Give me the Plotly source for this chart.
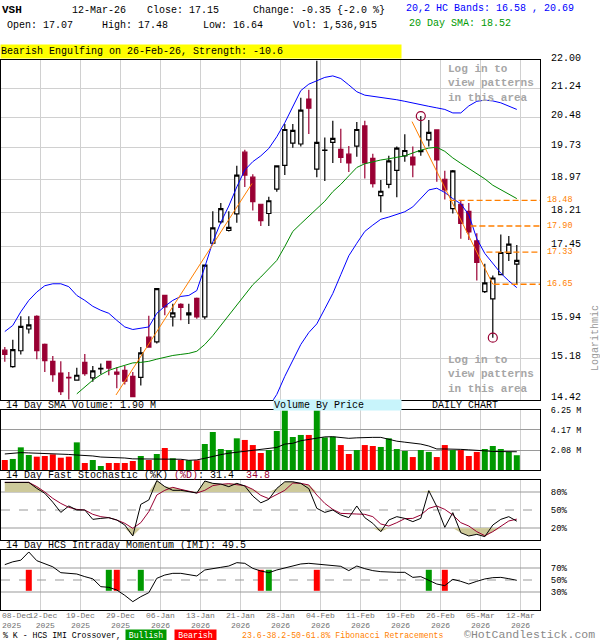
import math

import pandas as pd
import plotly.graph_objects as go

# 1. price data (daily candles, VSH)
dates = ["2025-12-08", "2025-12-09", "2025-12-10", "2025-12-11", "2025-12-12", "2025-12-15", "2025-12-16",
         "2025-12-17", "2025-12-18", "2025-12-19", "2025-12-22", "2025-12-23", "2025-12-24", "2025-12-26",
         "2025-12-29", "2025-12-30", "2025-12-31", "2026-01-02", "2026-01-05", "2026-01-06", "2026-01-07",
         "2026-01-08", "2026-01-09", "2026-01-12", "2026-01-13", "2026-01-14", "2026-01-15", "2026-01-16",
         "2026-01-20", "2026-01-21", "2026-01-22", "2026-01-23", "2026-01-26", "2026-01-27", "2026-01-28",
         "2026-01-29", "2026-01-30", "2026-02-02", "2026-02-03", "2026-02-04", "2026-02-05", "2026-02-06",
         "2026-02-09", "2026-02-10", "2026-02-11", "2026-02-12", "2026-02-13", "2026-02-17", "2026-02-18",
         "2026-02-19", "2026-02-20", "2026-02-23", "2026-02-24", "2026-02-25", "2026-02-26", "2026-02-27",
         "2026-03-02", "2026-03-03", "2026-03-04", "2026-03-05", "2026-03-06", "2026-03-09", "2026-03-10",
         "2026-03-11", "2026-03-12"]

opens = [15.34, 15.03, 15.33, 15.75, 16.00, 15.45, 15.13, 14.91, 14.83, 14.78,
         15.11, 14.82, 14.99, 15.13, 14.93, 14.96, 14.85, 14.83, 15.59, 15.50,
         16.42, 15.99, 16.24, 16.03, 16.36, 15.99, 17.52, 17.99, 17.80, 18.17,
         19.62, 19.02, 18.39, 18.18, 18.74, 19.30, 19.84, 19.82, 20.96, 19.21,
         19.66, 19.86, 19.69, 19.57, 19.77, 20.27, 19.47, 18.59, 18.85, 19.18,
         19.53, 19.50, 19.63, 19.92, 20.17, 18.97, 18.29, 18.39, 18.23, 17.57,
         16.50, 16.35, 16.85, 17.30, 17.07]
highs = [15.40, 15.54, 16.00, 16.00, 16.02, 15.47, 15.23, 15.13, 14.93, 15.01,
         15.27, 15.04, 15.09, 15.14, 15.02, 15.04, 14.93, 15.40, 16.01, 16.57,
         16.43, 16.25, 16.26, 16.25, 16.38, 17.06, 18.23, 18.42, 18.23, 19.29,
         19.68, 19.09, 18.40, 18.56, 19.30, 20.32, 20.32, 20.99, 21.20, 21.98,
         19.98, 20.40, 20.20, 19.77, 20.37, 20.40, 19.58, 18.95, 19.53, 19.76,
         20.06, 19.76, 20.52, 20.42, 20.18, 19.17, 19.19, 18.48, 18.42, 17.74,
         17.08, 16.83, 17.71, 17.68, 17.48]
lows = [15.12, 15.01, 15.26, 15.66, 15.17, 14.93, 14.75, 14.51, 14.43, 14.77,
        14.86, 14.75, 14.89, 14.87, 14.63, 14.70, 14.47, 14.68, 15.39, 15.47,
        16.02, 15.80, 15.92, 15.85, 15.95, 15.94, 17.50, 17.95, 17.78, 17.97,
        18.79, 18.25, 17.90, 17.90, 18.68, 19.07, 19.73, 19.76, 20.07, 19.02,
        18.93, 19.36, 19.36, 19.14, 19.51, 18.99, 18.78, 18.21, 18.76, 18.55,
        19.39, 19.02, 19.53, 19.76, 18.91, 18.50, 18.18, 17.62, 17.59, 16.73,
        16.47, 15.58, 16.84, 17.14, 16.64]
closes = [15.26, 15.35, 15.80, 15.83, 15.33, 15.14, 14.88, 14.57, 14.82, 14.87,
          14.90, 14.95, 15.00, 15.00, 14.89, 14.76, 14.48, 15.29, 15.40, 16.56,
          16.19, 16.07, 16.18, 16.07, 15.99, 17.05, 17.86, 18.29, 17.87, 19.07,
          19.07, 18.45, 18.02, 18.47, 19.29, 20.18, 20.16, 20.67, 20.72, 19.86,
          19.67, 19.96, 19.49, 19.36, 20.18, 19.36, 18.87, 18.69, 19.41, 19.72,
          19.66, 19.31, 19.66, 20.11, 19.43, 18.72, 19.17, 17.96, 17.77, 17.11,
          16.68, 16.78, 17.32, 17.50, 17.15]

# 20,2 bands and 20 day SMA
band_upper = [15.70, 15.82, 16.09, 16.32, 16.49, 16.62, 16.66, 16.66, 16.60, 16.42,
              16.32, 16.20, 16.12, 16.06, 15.92, 15.79, 15.74, 15.76, 15.79, 16.06,
              16.20, 16.32, 16.40, 16.42, 16.52, 17.01, 17.55, 17.98, 18.35, 18.79,
              19.19, 19.39, 19.53, 19.71, 20.00, 20.35, 20.75, 21.18, 21.35, 21.44,
              21.53, 21.57, 21.50, 21.33, 21.15, 21.06, 21.03, 21.00, 20.98, 20.94,
              20.90, 20.85, 20.81, 20.77, 20.73, 20.69, 20.60, 20.60, 20.78, 20.90,
              20.93, 20.91, 20.86, 20.78, 20.69]
band_lower = [None] * 33 + [
    14.30, 14.52, 14.85, 15.15, 15.45, 15.68, 15.85, 16.15, 16.46, 16.85,
    17.25, 17.52, 17.78, 17.92, 18.05, 18.10, 18.16, 18.22, 18.33, 18.52,
    18.72, 18.76, 18.66, 18.52, 18.40, 18.15, 17.62, 17.30, 17.08, 16.88,
    16.72, 16.58]
sma20 = [None] * 9 + [
    14.53, 14.66, 14.78, 14.88, 14.96, 15.01, 15.06, 15.10, 15.11, 15.13,
    15.17, 15.21, 15.24, 15.26, 15.28, 15.32, 15.45, 15.62, 15.82, 16.02,
    16.22, 16.44, 16.64, 16.80, 16.98, 17.15, 17.45, 17.78, 17.95, 18.12,
    18.30, 18.46, 18.68, 18.85, 19.05, 19.25, 19.34, 19.39, 19.43, 19.46,
    19.50, 19.53, 19.60, 19.67, 19.72, 19.74, 19.64, 19.48, 19.35, 19.22,
    19.11, 18.98, 18.83, 18.72, 18.62, 18.52]

# price axis levels and volume-by-price per band (bottom band first)
price_ticks = [14.42, 15.18, 15.94, 16.69, 17.45, 18.21, 18.97, 19.73, 20.48, 21.24, 22.00]
price_tick_text = ["14.42", "15.18", "15.94", "", "17.45", "18.21", "18.97", "19.73", "20.48", "21.24", "22.00"]
vbp_volume = [9.8, 7.2, 7.4, 7.9, 9.7, 10.4, 25.5, 17.1, 5.4, 0]
vbp_full_width = 53.9

# pattern / fibonacci
pattern_date = "2026-02-26"
pattern_candles = ["2026-02-25", "2026-02-26"]
swing_high_date = "2026-02-24"
swing_low_date = "2026-03-09"
fib_levels = [18.48, 17.90, 17.33, 16.65]
fib_start = [55.6, 58.2, 60.2, 61.1]
trend_lines = [([13.9, 30.9], [14.51, 18.87]), ([50.9, 61.0], [20.38, 16.65])]

# 2. volume (millions)
volume = [1.04, 1.15, 2.36, 1.56, 1.39, 1.46, 1.63, 1.28, 1.39, 2.88,
          0.73, 1.04, 0.42, 0.73, 0.73, 0.73, 0.94, 1.46, 1.04, 1.67,
          2.29, 1.22, 1.04, 1.01, 1.01, 2.71, 3.96, 2.19, 2.08, 3.30,
          3.13, 2.60, 1.77, 2.08, 4.06, 6.20, 3.44, 3.65, 3.65, 6.20,
          3.40, 3.47, 2.60, 1.67, 2.08, 2.60, 2.50, 2.40, 3.30, 2.19,
          1.98, 1.35, 2.08, 1.88, 1.35, 2.60, 2.08, 2.08, 1.46, 1.88,
          2.19, 2.50, 2.19, 1.88, 1.54]
volume_sma = [1.67, 1.72, 1.81, 1.78, 1.75, 1.72, 1.72, 1.70, 1.62, 1.56,
              1.52, 1.46, 1.35, 1.32, 1.32, 1.25, 1.16, 1.15, 1.17, 1.17,
              1.15, 1.15, 1.12, 1.01, 1.05, 1.22, 1.45, 1.60, 1.75, 1.85,
              1.95, 2.05, 2.15, 2.22, 2.35, 2.70, 2.78, 3.05, 3.20, 3.37,
              3.45, 3.47, 3.40, 3.30, 3.35, 3.40, 3.40, 3.40, 3.22, 3.00,
              2.90, 2.80, 2.70, 2.50, 2.19, 2.19, 2.19, 2.15, 2.10, 2.08,
              2.00, 1.93, 1.92, 1.93, 1.90]
volume_ticks = [2.08, 4.17, 6.25]

# 3. stochastic and IMI (%)
stoch_k = [96, 96, 96, 96, 86, 77.8, 63, 46, 56.7, 50,
           50, 34.4, 36, 37.2, 33.3, 25, 6.7, 59.4, 66.7, 99,
           89, 82.8, 82.8, 80.6, 78.3, 98.3, 94.4, 93.3, 88.9, 94.4,
           90, 73.3, 62, 67.8, 86, 97, 97, 94.4, 85.6, 52.8,
           46, 50, 41.7, 37.2, 56.7, 37.2, 27.8, 13.9, 33.3, 38.9,
           36, 30.6, 36, 82.2, 55.6, 21.1, 45.6, 12.2, 6.7, 9.4,
           5.6, 25, 34.4, 38.9, 31.4]
stoch_d = [96, 96, 96, 96, 89, 80, 69.4, 61, 54.4, 51,
           50, 42.8, 38.9, 37.2, 33.3, 27.8, 19.4, 28.9, 47.2, 75,
           82.8, 87.8, 84.4, 81.7, 78.3, 82.8, 90.6, 92.8, 93.9, 92.2,
           90.6, 84.4, 74.4, 68.9, 76, 82.8, 95, 94.4, 91.7, 75,
           61, 51, 44.4, 43.3, 43.3, 42.8, 38.9, 26.7, 23.3, 28.9,
           35.6, 36, 41.7, 52.8, 56.7, 51, 41.7, 28.9, 23.3, 13.9,
           7.2, 13.9, 23.3, 31.7, 34.8]
imi = [75.6, 80.3, 83, 96.7, 82.2, 76.7, 72, 62.2, 61, 60,
       55.6, 52, 38.9, 37.8, 33.3, 24.4, 13.9, 22.2, 28.9, 52.8,
       58.3, 61.1, 61.1, 59.4, 56.7, 66.7, 69.4, 71.1, 73.3, 78.9,
       77.8, 69.4, 65, 62.2, 66.7, 70, 73.3, 76.7, 77.8, 76.7,
       75.6, 74.4, 72.8, 65.6, 73.3, 68.9, 65.6, 63.9, 62.8, 62.8,
       62.8, 54.4, 55.6, 50, 43.3, 40.6, 51.1, 47.8, 43.3, 47.8,
       51.7, 53.9, 54.4, 52.2, 49.5]
stoch_levels = [20, 50, 80]
imi_levels = [30, 50, 70]
bullish_dates = ["2025-12-26", "2026-01-02", "2026-01-27", "2026-02-25"]
bearish_dates = ["2025-12-11", "2025-12-29", "2026-01-26", "2026-02-04", "2026-02-27"]
cross_band = [32, 67]

# 4. layout helpers
MONO = "Liberation Mono"
W, H = 600, 640
MAROON, GREEN_BAR, RED_BAR, ORANGE = "#990033", "#009900", "#ff0000", "#ff7f00"


def fx(px):
    return px / W


def fy(py):
    return 1 - py / H


idx = list(range(len(dates)))
x_lo, x_hi = -0.475, 66.9
grid_x = [i + 0.46 for i in idx[4::5]]
grid_text = [pd.Timestamp(dates[i]).strftime("%d-%b<br>%Y") for i in idx[4::5]]
grid_text[0] = grid_text[0].replace("12", "\u00a012").replace("<br>", "<br>\u00a0\u00a0")
rising = [c > o for o, c in zip(opens, closes)]
log_lo, log_hi = math.log10(price_ticks[0]) - 1e-5, math.log10(price_ticks[-1]) + 1e-5

fig = go.Figure()

# price panel
fig.add_trace(go.Candlestick(x=idx, open=opens, high=highs, low=lows, close=closes,
                             increasing=dict(fillcolor="white", line=dict(color="black", width=1.2)),
                             decreasing=dict(fillcolor=MAROON, line=dict(color=MAROON, width=1.2)),
                             whiskerwidth=0, hoverinfo="skip", xaxis="x", yaxis="y"))
fig.add_trace(go.Scatter(x=idx, y=band_upper, mode="lines", line=dict(color="#0000ff", width=1), xaxis="x", yaxis="y"))
fig.add_trace(go.Scatter(x=idx, y=band_lower, mode="lines", line=dict(color="#0000ff", width=1), xaxis="x", yaxis="y"))
fig.add_trace(go.Scatter(x=idx, y=sma20, mode="lines", line=dict(color="#008800", width=1), xaxis="x", yaxis="y"))
for tx, ty in trend_lines:
    fig.add_trace(go.Scatter(x=tx, y=ty, mode="lines", line=dict(color=ORANGE, width=1), xaxis="x", yaxis="y"))
for lvl, start in zip(fib_levels, fib_start):
    fig.add_trace(go.Scatter(x=[start, x_hi], y=[lvl, lvl], mode="lines",
                             line=dict(color=ORANGE, width=1.3, dash="6px,3px"), xaxis="x", yaxis="y"))
hi_i, lo_i = dates.index(swing_high_date), dates.index(swing_low_date)
fig.add_trace(go.Scatter(x=[hi_i, lo_i], y=[highs[hi_i], lows[lo_i]], mode="markers",
                         marker=dict(symbol="circle-open", size=9, color=MAROON, line=dict(width=1.2)),
                         xaxis="x", yaxis="y"))

# volume panel
fig.add_trace(go.Bar(x=idx, y=volume, width=0.75,
                     marker=dict(color=[GREEN_BAR if r else RED_BAR for r in rising], line_width=0),
                     xaxis="x2", yaxis="y2"))
fig.add_trace(go.Scatter(x=idx, y=volume_sma, mode="lines", line=dict(color="black", width=1), xaxis="x2", yaxis="y2"))

# stochastic panel (shade beyond 80 / 20)
top = [max(k, d, stoch_levels[2]) for k, d in zip(stoch_k, stoch_d)]
bot = [min(k, d, stoch_levels[0]) for k, d in zip(stoch_k, stoch_d)]
for base, edge in ((stoch_levels[2], top), (stoch_levels[0], bot)):
    fig.add_trace(go.Scatter(x=idx, y=[base] * len(idx), mode="lines", line=dict(width=0), xaxis="x3", yaxis="y3"))
    fig.add_trace(go.Scatter(x=idx, y=edge, mode="lines", line=dict(width=0), fill="tonexty",
                             fillcolor="#cdc99a", xaxis="x3", yaxis="y3"))
fig.add_trace(go.Scatter(x=idx, y=stoch_d, mode="lines", line=dict(color=MAROON, width=1), xaxis="x3", yaxis="y3"))
fig.add_trace(go.Scatter(x=idx, y=stoch_k, mode="lines", line=dict(color="black", width=1), xaxis="x3", yaxis="y3"))

# momentum panel
for ds, col in ((bullish_dates, GREEN_BAR), (bearish_dates, RED_BAR)):
    xs = [dates.index(d) for d in ds]
    fig.add_trace(go.Bar(x=xs, y=[cross_band[1] - cross_band[0]] * len(xs), base=cross_band[0], width=0.75,
                         marker=dict(color=col, line_width=0), xaxis="x4", yaxis="y4"))
fig.add_trace(go.Scatter(x=idx, y=imi, mode="lines", line=dict(color="black", width=1), xaxis="x4", yaxis="y4"))

# 5. shapes (axis refs only, no "domain" refs)
shapes = []
for lo, hi, v in zip(price_ticks[:-1], price_ticks[1:], vbp_volume):
    if v:
        shapes.append(dict(type="rect", xref="x", yref="y", x0=x_lo,
                           x1=x_lo + v / vbp_full_width * (x_hi - x_lo),
                           y0=math.log10(lo), y1=math.log10(hi),
                           fillcolor="#c8f4fb", line_width=0, layer="below"))
zone_x = dates.index(pattern_date) + 0.46
shapes.append(dict(type="rect", xref="x", yref="y", x0=zone_x, x1=x_hi, y0=log_lo, y1=log_hi,
                   fillcolor="#f2f2f2", line_width=0, layer="below"))
shapes.append(dict(type="line", xref="x", yref="y", x0=zone_x, x1=zone_x, y0=log_lo, y1=log_hi,
                   line=dict(color="#a0a0a0", width=1), layer="between"))
for d in pattern_candles:
    i = dates.index(d)
    shapes.append(dict(type="rect", xref="x", yref="y", x0=i - 0.68, x1=i + 0.68,
                       y0=math.log10(lows[i] * 0.998), y1=math.log10(highs[i] * 1.004),
                       fillcolor="#ffff00", line_width=0, layer="between"))
for ax, levels in (("3", stoch_levels), ("4", imi_levels)):
    for lvl in levels:
        shapes.append(dict(type="line", xref=f"x{ax}", yref=f"y{ax}", x0=x_lo, x1=x_hi, y0=lvl, y1=lvl,
                           line=dict(color="#999999", width=1, dash="dash" if lvl == 50 else "solid"),
                           layer="between"))

# 6. texts
ann = []


def label(x, y, text, size=10, color="black", anchor="left", **kw):
    ann.append(dict(x=fx(x), y=fy(y), xref="paper", yref="paper", text=text, showarrow=False,
                    xanchor=anchor, yanchor=kw.pop("yanchor", "middle"),
                    font=dict(family=MONO, size=size, color=color), **kw))


label(0, 10, "<b>VSH</b>", size=11)
label(70, 10, "12-Mar-26")
label(145, 10, "Close: 17.15")
label(251, 10, "Change: -0.35 {-2.0 %}")
label(404, 9, "20,2 HC Bands: 16.58 , 20.69", color="#0000ff")
label(5, 25, "Open: 17.07")
label(100, 25, "High: 17.48")
label(201, 25, "Low: 16.64")
label(291, 25, "Vol: 1,536,915")
label(407, 24, "20 Day SMA: 18.52", color="#009900")
label(0, 51, "Bearish Engulfing on 26-Feb-26, Strength: -10.6", bgcolor="#ffff00", width=400, height=13,
      align="left", borderpad=0)
login = "<b>Log in to<br>view patterns<br>in this area</b>"
label(446, 61, login, size=11, color="#a6a6a6", align="left", yanchor="top")
label(446, 352, login, size=11, color="#a6a6a6", align="left", yanchor="top")
for lvl in fib_levels:
    ann.append(dict(x=fx(545), y=math.log10(lvl), xref="paper", yref="y", text=f"{lvl:.2f}", showarrow=False,
                    xanchor="left", font=dict(family=MONO, size=8.5, color=ORANGE)))
label(595, 338, "Logarithmic", color="#999999", anchor="center", textangle=-90)
label(4, 405, "14 Day SMA Volume: 1.90 M")
label(273, 405, "Volume By Price", bgcolor="#c8f4fb", width=127, height=10, align="left", borderpad=0)
label(430, 405, "DAILY CHART")
label(4, 475, f"14 Day Fast Stochastic (%K) <span style='color:{MAROON}'>(%D)</span>: 31.4\u00a0\u00a0"
              f"<span style='color:{MAROON}'>34.8</span>")
label(4, 545, "14 Day HCS Intraday Momentum (IMI): 49.5")
label(0, 609, "08-Dec<br>2025", size=8, color="#707070", yanchor="top", align="left")
label(1, 635, "% K - HCS IMI Crossover,", size=8.2)
label(125, 635, "Bullish", size=8.2, color="white", bgcolor=GREEN_BAR, width=38, borderpad=1)
label(174, 635, "Bearish", size=8.2, color="white", bgcolor=RED_BAR, width=39, borderpad=1)
label(240, 635, "23.6-38.2-50-61.8% Fibonacci Retracements", size=8.2, color=ORANGE)
label(462, 634, "©HotCandlestick.com", size=11.5, color="#888888")

# 7. axes
frame = dict(showline=True, mirror=True, linecolor="black", linewidth=1, ticks="", zeroline=False,
             fixedrange=True, automargin=False)
xcommon = dict(frame, range=[x_lo, x_hi], domain=[fx(1), fx(540)], tickmode="array", tickvals=grid_x,
               showgrid=True, gridcolor="#d0d0d0", gridwidth=1, showticklabels=False)
yright = dict(frame, side="right", ticklabelstandoff=8)

fig.update_layout(
    width=W, height=H, margin=dict(l=0, r=0, t=0, b=0, autoexpand=False), showlegend=False,
    paper_bgcolor="white", plot_bgcolor="white", boxgap=0.25, barmode="overlay",
    xaxis=dict(xcommon, anchor="y", rangeslider=dict(visible=False)),
    xaxis2=dict(xcommon, anchor="y2"),
    xaxis3=dict(xcommon, anchor="y3"),
    xaxis4=dict(xcommon, anchor="y4", showticklabels=True, ticktext=grid_text, ticklabelstandoff=-3,
                tickfont=dict(family=MONO, size=8, color="#707070")),
    yaxis=dict(yright, anchor="x", domain=[fy(400), fy(60)], type="log", range=[log_lo, log_hi],
               tickmode="array", tickvals=price_ticks, ticktext=price_tick_text, showgrid=True,
               gridcolor="#d0d0d0", ticklabelshift=-3, tickfont=dict(family=MONO, size=10, color="black")),
    yaxis2=dict(yright, anchor="x2", domain=[fy(470), fy(410)], range=[0, 6.25], tickmode="array",
                tickvals=volume_ticks, ticktext=[f"{v:.2f} M" for v in volume_ticks], showgrid=True,
                gridcolor="#9a9a9a", tickfont=dict(family=MONO, size=8.5, color="black")),
    yaxis3=dict(yright, anchor="x3", domain=[fy(540), fy(480)], range=[0, 100], tickmode="array",
                tickvals=stoch_levels, ticktext=[f"{v}%" for v in stoch_levels], showgrid=False,
                tickfont=dict(family=MONO, size=9, color="black")),
    yaxis4=dict(yright, anchor="x4", domain=[fy(610), fy(550)], range=[0, 100], tickmode="array",
                tickvals=imi_levels, ticktext=[f"{v}%" for v in imi_levels], showgrid=False,
                tickfont=dict(family=MONO, size=9, color="black")),
    shapes=shapes, annotations=ann,
)

fig.write_html("out.html", config={"displayModeBar": False},
               post_script="document.body.style.margin='0';")
